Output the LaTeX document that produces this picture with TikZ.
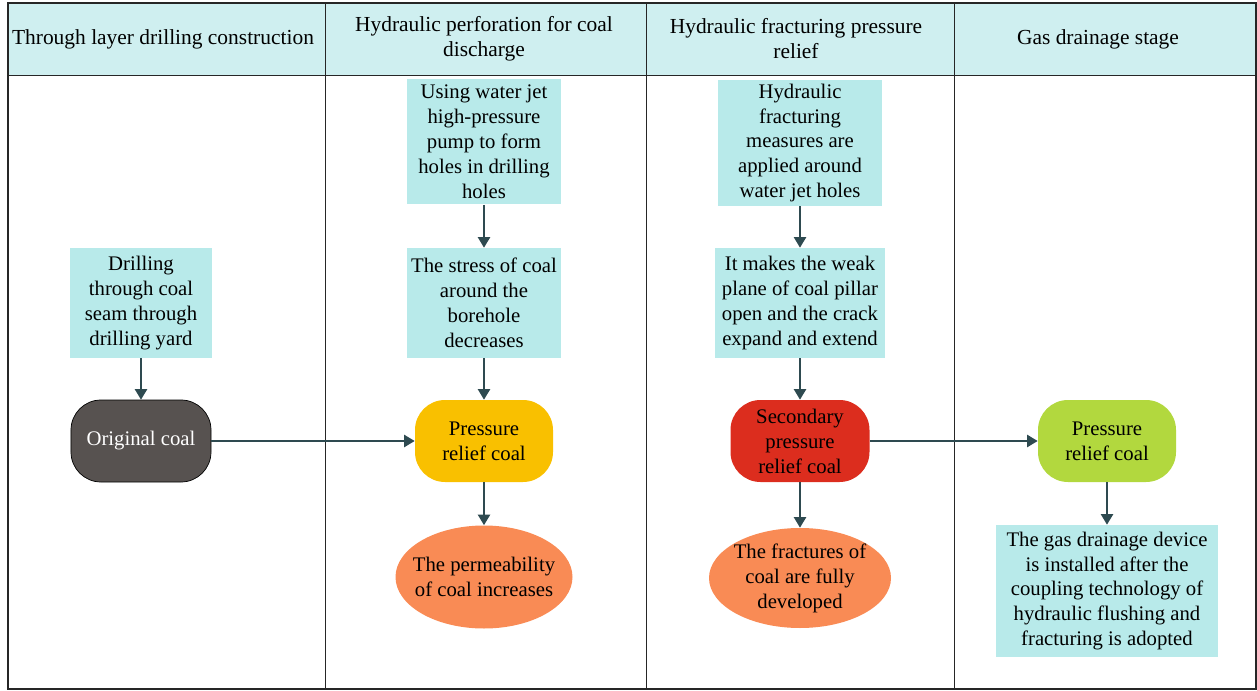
\documentclass[tikz,border=0pt]{standalone}
\usepackage{fontspec}
\setmainfont{Liberation Serif}
\usepackage{tikz}
\usetikzlibrary{arrows.meta,shapes.geometric}

\definecolor{headfill}{HTML}{CFEFF0}
\definecolor{boxfill}{HTML}{B8EAEA}
\definecolor{arrowcol}{HTML}{2E4A50}
\definecolor{origfill}{HTML}{575250}
\definecolor{relieffill}{HTML}{F9C000}
\definecolor{secondfill}{HTML}{DC2D1E}
\definecolor{greenfill}{HTML}{B2D83E}
\definecolor{ovalfill}{HTML}{F98B55}

\begin{document}
\begin{tikzpicture}[x=0.2mm, y=-0.2mm]
        \useasboundingbox (0,0) rectangle (1257,691);
        % table
        \fill[headfill] (8,3) rectangle (1256,75);
        \draw[black!85, line width=0.7pt] (8,3) rectangle (1256,689);
        \draw[black!85, line width=0.5pt] (8,75) -- (1256,75);
        \foreach \xc in {325,646,954}
                \draw[black!85, line width=0.5pt] (\xc,3) -- (\xc,689);
        \begin{scope}[every node/.style={align=center, font=\fontsize{12.2}{14.2}\selectfont}]
                \node (H1) at (163,39) {Through layer drilling construction};
                \node (H2) at (484,39) {Hydraulic perforation for coal\\discharge};
                \node (H3) at (796,39) {Hydraulic fracturing pressure\\relief};
                \node (H4) at (1098,39) {Gas drainage stage};
        \end{scope}
        % steps
        \begin{scope}[every node/.style={align=center, inner sep=0pt, font=\fontsize{11.8}{14.2}\selectfont}]
                \node [fill=boxfill, minimum width=28.2mm, minimum height=22mm] (drill) at (141,303) {Drilling\\through coal\\seam through\\drilling yard};
                \node [fill=origfill, draw=black, rounded corners=6mm, text=white, minimum width=28mm, minimum height=16.4mm] (orig) at (141,441) {Original coal};
                \node [fill=boxfill, minimum width=30.8mm, minimum height=25mm] (jet) at (484,142) {Using water jet\\high-pressure\\pump to form\\holes in drilling\\holes};
                \node [fill=boxfill, minimum width=30.8mm, minimum height=22mm] (stress) at (484,303) {The stress of coal\\around the\\borehole\\decreases};
                \node [fill=relieffill, rounded corners=6mm, minimum width=27.6mm, minimum height=16.4mm] (relief) at (484,441) {Pressure\\relief coal};
                \node [fill=ovalfill, ellipse, inner xsep=-1.8mm, minimum width=35.4mm, minimum height=20.6mm] (perm) at (484,577) {The permeability\\of coal increases};
                \node [fill=boxfill, minimum width=32.8mm, minimum height=25.2mm] (frac) at (800,143) {Hydraulic\\fracturing\\measures are\\applied around\\water jet holes};
                \node [fill=boxfill, minimum width=34mm, minimum height=22mm] (weak) at (800,303) {It makes the weak\\plane of coal pillar\\open and the crack\\expand and extend};
                \node [fill=secondfill, rounded corners=6mm, minimum width=27.8mm, minimum height=16.4mm] (second) at (800,441) {Secondary\\pressure\\relief coal};
                \node [fill=ovalfill, ellipse, inner xsep=-0.5mm, minimum width=36.4mm, minimum height=20mm] (fract) at (800,578) {The fractures of\\coal are fully\\developed};
                \node [fill=greenfill, rounded corners=6mm, minimum width=27.6mm, minimum height=16.4mm] (drain) at (1107,441) {Pressure\\relief coal};
                \node [fill=boxfill, minimum width=44.4mm, minimum height=26.4mm] (device) at (1107,591) {The gas drainage device\\is installed after the\\coupling technology of\\hydraulic flushing and\\fracturing is adopted};
        \end{scope}
        \begin{scope}[every path/.style={draw=arrowcol, line width=0.85pt, -{Triangle[width=7pt,length=6pt]}}]
                \path (drill) edge (orig);
                \path (orig) edge (relief);
                \path (jet) edge (stress);
                \path (stress) edge (relief);
                \path (relief) edge (perm);
                \path (frac) edge (weak);
                \path (weak) edge (second);
                \path (second) edge (fract);
                \path (second) edge (drain);
                \path (drain) edge (device);
        \end{scope}
\end{tikzpicture}
\end{document}
